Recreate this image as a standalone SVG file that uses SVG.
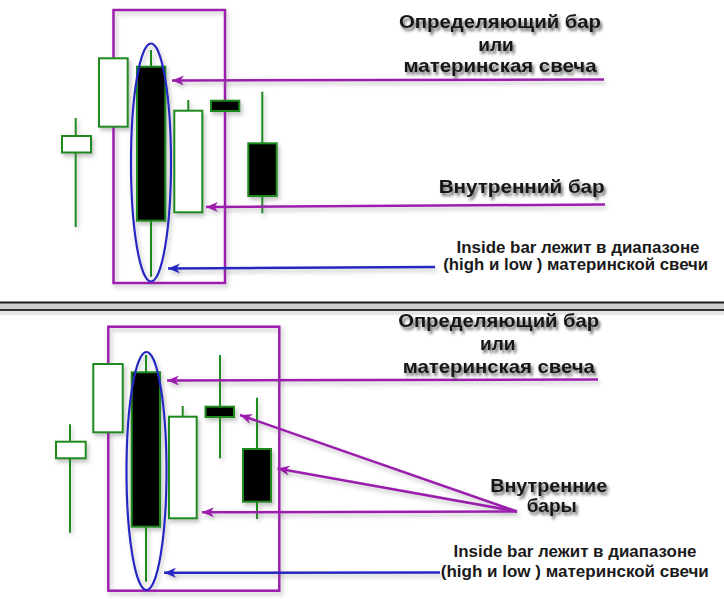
<svg xmlns="http://www.w3.org/2000/svg" width="724" height="599" viewBox="0 0 724 599">
<style>
.bg{fill:#ffffff}
.frame{fill:none;stroke:#9c1eae;stroke-width:2.5}
.wick{stroke:#1f8a1f;stroke-width:2}
.wb{fill:#ffffff;stroke:#1f8a1f;stroke-width:2}
.bb{fill:#000000;stroke:#1f8a1f;stroke-width:2}
.oval{fill:none;stroke:#2626c4;stroke-width:2.2}
.pa{stroke:#9c1eae;stroke-width:2.5;fill:none}
.ba{stroke:#2626c4;stroke-width:2.5;fill:none}
.h{font-family:"Liberation Sans",Arial,sans-serif;font-weight:bold;font-size:19px;fill:#151515;text-anchor:middle}
.s{font-family:"Liberation Sans",Arial,sans-serif;font-weight:bold;font-size:16px;fill:#1a1a1a;text-anchor:middle}
</style>
<defs>
<filter id="sh" x="-20%" y="-20%" width="140%" height="140%">
<feDropShadow dx="2" dy="3" stdDeviation="2" flood-color="#777" flood-opacity="0.45"/>
</filter>
<filter id="tsh" x="-10%" y="-30%" width="120%" height="170%">
<feDropShadow dx="2" dy="3" stdDeviation="1.6" flood-color="#333" flood-opacity="0.75"/>
</filter>
<marker id="mp" markerUnits="userSpaceOnUse" markerWidth="14" markerHeight="12" refX="12" refY="5" orient="auto">
<path d="M0,0 L12,5 L0,10 L3.5,5 z" fill="#9c1eae"/>
</marker>
<marker id="mb" markerUnits="userSpaceOnUse" markerWidth="14" markerHeight="12" refX="12" refY="5" orient="auto">
<path d="M0,0 L12,5 L0,10 L3.5,5 z" fill="#2626c4"/>
</marker>
</defs>
<rect class="bg" x="0" y="0" width="724" height="599"/>

<g id="separator">
<rect x="0" y="303" width="724" height="7" fill="#cfcfcf"/>
<line x1="0" y1="302.5" x2="724" y2="302.5" stroke="#1a1a1a" stroke-width="2"/>
<line x1="0" y1="310" x2="724" y2="310" stroke="#333" stroke-width="2"/>
<rect x="0" y="311" width="724" height="4" fill="#e6e6e6"/>
</g>

<!-- TOP PANEL -->
<g id="top-panel" filter="url(#sh)">
<g id="top-frame"><rect class="frame" x="113.5" y="10" width="111.5" height="273"/></g>
<g id="top-c1"><line class="wick" x1="75.7" y1="118" x2="75.7" y2="227"/><rect class="wb" x="62" y="136" width="29" height="16.5"/></g>
<g id="top-c2"><rect class="wb" x="99" y="58.3" width="28.7" height="68.4"/></g>
<g id="top-c3"><line class="wick" x1="151" y1="50" x2="151" y2="276.7"/><rect class="bb" x="137" y="66.7" width="28.3" height="154"/></g>
<g id="top-c4"><line class="wick" x1="188.3" y1="100" x2="188.3" y2="111"/><rect class="wb" x="174.3" y="110.7" width="28" height="101.6"/></g>
<g id="top-c5"><rect class="bb" x="211" y="100.7" width="28.3" height="10.3"/></g>
<g id="top-c6"><line class="wick" x1="262.3" y1="91.7" x2="262.3" y2="213.3"/><rect class="bb" x="248.3" y="143.3" width="28.4" height="52.7"/></g>
<g id="top-oval"><ellipse class="oval" cx="151" cy="162.5" rx="20" ry="119"/></g>
</g>

<g id="top-connectors" filter="url(#sh)">
<line class="pa" x1="604" y1="79.5" x2="172" y2="80.5" marker-end="url(#mp)"/>
<line class="pa" x1="605" y1="204.5" x2="206" y2="207" marker-end="url(#mp)"/>
<line class="ba" x1="435" y1="267" x2="168" y2="268.5" marker-end="url(#mb)"/>
</g>

<g id="top-texts" filter="url(#tsh)">
<text class="h" x="500" y="27.5" textLength="202" lengthAdjust="spacingAndGlyphs">Определяющий бар</text>
<text class="h" x="496" y="50.5">или</text>
<text class="h" x="500" y="71.5" textLength="193" lengthAdjust="spacingAndGlyphs">материнская свеча</text>
<text class="h" x="521.7" y="192.7" textLength="166" lengthAdjust="spacingAndGlyphs">Внутренний бар</text>
</g>
<g id="top-notes">
<text class="s" x="578" y="252.5" textLength="243" lengthAdjust="spacingAndGlyphs">Inside bar лежит в диапазоне</text>
<text class="s" x="575.7" y="269.5" textLength="265" lengthAdjust="spacingAndGlyphs">(high и low ) материнской свечи</text>
</g>

<!-- BOTTOM PANEL -->
<g id="bottom-panel" filter="url(#sh)">
<g id="bot-frame"><rect class="frame" x="108.3" y="326.7" width="171" height="264"/></g>
<g id="bot-c1"><line class="wick" x1="70" y1="424.3" x2="70" y2="532.7"/><rect class="wb" x="56" y="441.7" width="29.7" height="16.6"/></g>
<g id="bot-c2"><rect class="wb" x="93.3" y="364" width="29.4" height="68.3"/></g>
<g id="bot-c3"><line class="wick" x1="146" y1="355" x2="146" y2="581.7"/><rect class="bb" x="131.7" y="372.3" width="28.3" height="154.4"/></g>
<g id="bot-c4"><line class="wick" x1="182.7" y1="406" x2="182.7" y2="417"/><rect class="wb" x="169" y="416.7" width="27.7" height="101.6"/></g>
<g id="bot-c5"><line class="wick" x1="220" y1="355" x2="220" y2="458.3"/><rect class="bb" x="205.5" y="406.7" width="28.5" height="10.3"/></g>
<g id="bot-c6"><line class="wick" x1="257" y1="397.7" x2="257" y2="519"/><rect class="bb" x="243" y="449" width="28" height="52.7"/></g>
<g id="bot-oval"><ellipse class="oval" cx="146.5" cy="471" rx="20" ry="119"/></g>
</g>

<g id="bottom-connectors" filter="url(#sh)">
<line class="pa" x1="598" y1="379.5" x2="167" y2="380.5" marker-end="url(#mp)"/>
<line class="pa" x1="517" y1="511.5" x2="240" y2="415" marker-end="url(#mp)"/>
<line class="pa" x1="517" y1="511.5" x2="277.5" y2="468.5" marker-end="url(#mp)"/>
<line class="pa" x1="517" y1="511.5" x2="202" y2="512.3" marker-end="url(#mp)"/>
<line class="ba" x1="440" y1="572.5" x2="164" y2="572.7" marker-end="url(#mb)"/>
</g>

<g id="bottom-texts" filter="url(#tsh)">
<text class="h" x="498.7" y="327" textLength="201" lengthAdjust="spacingAndGlyphs">Определяющий бар</text>
<text class="h" x="497.8" y="350">или</text>
<text class="h" x="498.8" y="373.3" textLength="192" lengthAdjust="spacingAndGlyphs">материнская свеча</text>
<text class="h" x="548.7" y="491.5" textLength="117" lengthAdjust="spacingAndGlyphs">Внутренние</text>
<text class="h" x="551.7" y="512">бары</text>
</g>
<g id="bottom-notes">
<text class="s" x="575" y="556.5" textLength="243" lengthAdjust="spacingAndGlyphs">Inside bar лежит в диапазоне</text>
<text class="s" x="574.8" y="576.5" textLength="268" lengthAdjust="spacingAndGlyphs">(high и low ) материнской свечи</text>
</g>
</svg>
